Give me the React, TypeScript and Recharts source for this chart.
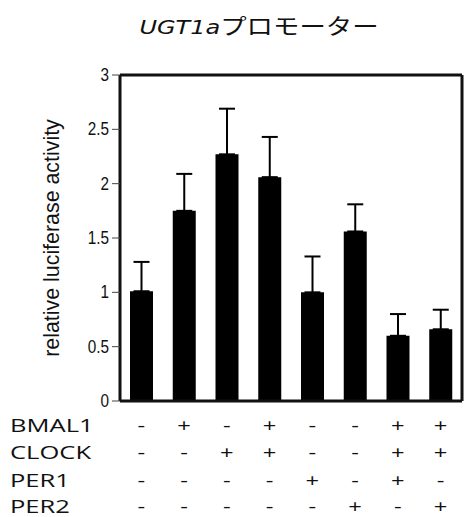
import { BarChart, Bar, XAxis, YAxis, ErrorBar, ReferenceLine } from "recharts"

const samples = ["s1", "s2", "s3", "s4", "s5", "s6", "s7", "s8"]

const activity = [1.01, 1.75, 2.27, 2.06, 1.0, 1.56, 0.6, 0.66]

const errorUp = [0.27, 0.34, 0.42, 0.37, 0.33, 0.25, 0.2, 0.18]

const rowNames = ["BMAL1", "CLOCK", "PER1", "PER2"]

const bmal1 = ["-", "+", "-", "+", "-", "-", "+", "+"]
const clock = ["-", "-", "+", "+", "-", "-", "+", "+"]
const per1 = ["-", "-", "-", "-", "+", "-", "+", "-"]
const per2 = ["-", "-", "-", "-", "-", "+", "-", "+"]

const rows = [bmal1, clock, per1, per2]

const yTicks = [0, 0.5, 1, 1.5, 2, 2.5, 3]
const yMax = 3

const data = samples.map((name, i) => ({
  name,
  value: activity[i],
  err: [0, errorUp[i]]
}))

const axisFont = "'Liberation Sans', Arial, sans-serif"
const tableFont = "'Open Sans', 'Noto Sans', sans-serif"

const rowOffsets = [31, 58, 86, 112]

function ConditionTick(props: any) {
  const { x, y, payload } = props
  const i = payload.index

  return (
    <g>
      {i === 0 &&
        rowNames.map((r, k) => (
          <text
            key={r}
            transform={`translate(10, ${y + rowOffsets[k]}) scale(1.42, 1)`}
            fontFamily={tableFont}
            fontSize={18}
            fill="#111"
          >
            {r}
          </text>
        ))}
      {rows.map((row, k) => (
        <text
          key={k}
          transform={`translate(${x}, ${y + rowOffsets[k]}) scale(1.25, 1)`}
          textAnchor="middle"
          fontFamily={tableFont}
          fontSize={19}
          fill="#111"
        >
          {row[i]}
        </text>
      ))}
    </g>
  )
}

function ValueTick(props: any) {
  const { x, y, payload } = props

  return (
    <text
      transform={`translate(${x}, ${y}) scale(0.85, 1)`}
      textAnchor="end"
      dominantBaseline="central"
      fontFamily={axisFont}
      fontSize={18}
      fill="#111"
    >
      {payload.value}
    </text>
  )
}

function YLabel(props: any) {
  const { viewBox } = props
  const cy = viewBox.y + viewBox.height / 2
  const cx = 51

  return (
    <text
      transform={`translate(${cx}, ${cy}) rotate(-90) scale(0.93, 1)`}
      textAnchor="middle"
      dominantBaseline="central"
      fontFamily={axisFont}
      fontSize={23}
      fill="#111"
    >
      relative luciferase activity
    </text>
  )
}

export default function App() {

  return (
    <div style={{ position: "absolute", left: 0, top: 0, width: 464, height: 517, background: "#fff" }}>

      <div
        style={{
          position: "absolute",
          top: 8,
          left: 259,
          transform: "translateX(-50%) scaleX(1.2)",
          whiteSpace: "nowrap",
          fontSize: 20,
          color: "#111",
          fontFamily: "'DejaVu Sans', sans-serif"
        }}
      >
        <span style={{ fontStyle: "italic" }}>UGT1a</span>
        <span style={{ fontFamily: "'Noto Sans CJK JP', sans-serif", fontSize: 22 }}>プロモーター</span>
      </div>

      <BarChart
        width={464}
        height={517}
        data={data}
        margin={{ top: 75, right: 2, bottom: 0, left: 0 }}
      >

        <XAxis
          dataKey="name"
          height={116}
          axisLine={{ stroke: "#111", strokeWidth: 3 }}
          tickLine={false}
          tickSize={0}
          tickMargin={0}
          interval={0}
          tick={<ConditionTick />}
        />

        <YAxis
          width={120}
          domain={[0, yMax]}
          ticks={yTicks}
          interval={0}
          tickSize={8}
          tickMargin={3}
          tickLine={{ stroke: "#444", strokeWidth: 1 }}
          axisLine={{ stroke: "#111", strokeWidth: 3 }}
          tick={<ValueTick />}
          label={{ content: <YLabel /> }}
        />

        {/* top and right edges of the box */}
        <ReferenceLine y={yMax} stroke="#111" strokeWidth={3} ifOverflow="visible" />
        <ReferenceLine
          x={samples[samples.length - 1]}
          position="end"
          stroke="#111"
          strokeWidth={3}
          ifOverflow="visible"
        />

        <Bar
          dataKey="value"
          fill="#000"
          barSize={23}
          isAnimationActive={false}
        >
          <ErrorBar
            dataKey="err"
            direction="y"
            width={8}
            stroke="#000"
            strokeWidth={2}
            isAnimationActive={false}
          />
        </Bar>

      </BarChart>

    </div>
  )
}
